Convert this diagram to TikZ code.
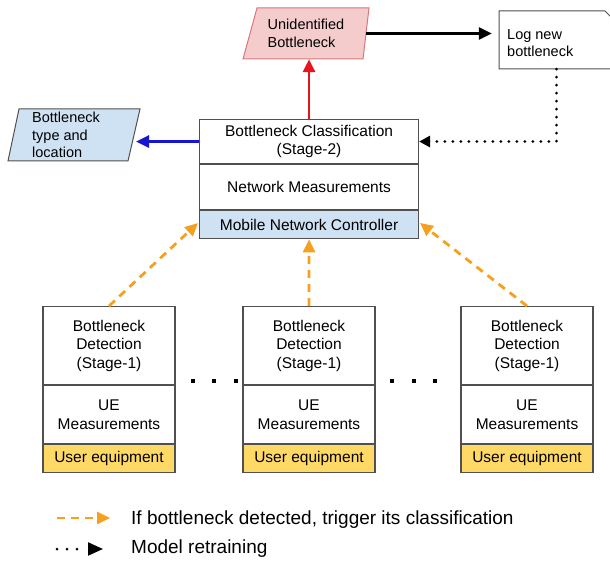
\documentclass[tikz,border=0pt]{standalone}
\usepackage{fontspec}
\setmainfont{Liberation Sans}
\usetikzlibrary{arrows.meta,calc}
\definecolor{pinkfill}{HTML}{F4CCCC}
\definecolor{pinkline}{HTML}{D9767A}
\definecolor{bluefill}{HTML}{CFE2F3}
\definecolor{yellowfill}{HTML}{FFD966}
\definecolor{boxline}{HTML}{505050}
\definecolor{orangeline}{HTML}{F6A020}
\definecolor{redline}{HTML}{E8141B}
\definecolor{blueline}{HTML}{1616D0}
\tikzset{
  cell/.style={draw=boxline, line width=1.1pt, minimum width=219pt, inner sep=0pt, align=center, font=\fontsize{15.5}{18.5}\selectfont},
  ucell/.style={draw=boxline, line width=1.1pt, minimum width=132pt, inner sep=0pt, align=center, font=\fontsize{15.5}{18.5}\selectfont},
  tip/.style={-{Triangle[length=13pt,width=12pt]}},
  trig/.style={draw=orangeline, line width=2.8pt, dash pattern=on 8pt off 6pt, -{Triangle[length=13pt,width=12pt]}},
  retrain/.style={draw=black, line width=3pt, line cap=round, dash pattern=on 0pt off 8pt},
  dotmark/.style={fill=black, minimum size=4pt, inner sep=0pt},
  lbl/.style={font=\fontsize{14.5}{17.5}\selectfont, align=left, inner sep=0pt},
}
\begin{document}
\begin{tikzpicture}[x=1pt,y=-1pt]
\path[use as bounding box] (0,0) rectangle (610,561);
% Classification stack
\node[cell, minimum height=44pt, anchor=north west] (cls1) at (199,119) {Bottleneck Classification\\(Stage-2)};
\node[cell, minimum height=45pt, anchor=north] (cls2) at (cls1.south) {Network Measurements};
\node[cell, minimum height=28pt, anchor=north, fill=bluefill] (cls3) at (cls2.south) {Mobile Network Controller};
% Unidentified bottleneck (parallelogram)
\node[minimum width=120pt, minimum height=51pt, inner sep=0pt] (unid) at (306,33.5) {};
\filldraw[fill=pinkfill, draw=pinkline, line width=1pt] (257,8) -- (369,8) -- (363,59) -- (243,59) -- cycle;
\node[lbl] (unidtext) at (unid.center) {Unidentified\\Bottleneck};
% Bottleneck type and location
\node[minimum width=120pt, minimum height=52pt, inner sep=0pt] (btype) at (74,135) {};
\filldraw[fill=bluefill, draw=boxline, line width=1pt] (19,109) -- (140,109) -- (128,161) -- (8,161) -- cycle;
\node[lbl, anchor=west] (btypetext) at (32,135) {Bottleneck\\type and\\location};
% Log new bottleneck (document with folded corner)
\node[minimum width=115pt, minimum height=58pt, inner sep=0pt] (log) at (556.5,40) {};
\draw[boxline, line width=1pt, fill=white] (499,11) -- (605,11) -- (616,22) -- (616,69) -- (499,69) -- cycle;
\node[lbl, anchor=west] (logtext) at (507,43) {Log new\\bottleneck};
% Connectors at top
\draw[redline, line width=2.8pt, tip] (cls1.north) -- (cls1.north |- unid.south);
\draw[blueline, line width=2.8pt, tip] (cls1.west) -- ++(-63,0);
\draw[black, line width=2.8pt, tip] (unid.east) -- ([xshift=-7pt]unid.east -| log.west);
\draw[retrain] (log.south) |- ([xshift=8pt]cls1.east);
\draw[black, line width=2.8pt, -{Triangle[length=11pt,width=11pt]}] ([xshift=6pt]cls1.east) -- (cls1.east);
% UE boxes
\foreach \i/\x in {a/109, b/309, c/527}{
  \node[ucell, minimum height=78pt, anchor=north] (det\i) at (\x,306) {Bottleneck\\Detection\\(Stage-1)};
  \node[ucell, minimum height=58pt, anchor=north] (meas\i) at (det\i.south) {UE\\Measurements};
  \node[ucell, minimum height=28pt, anchor=north, fill=yellowfill] (ue\i) at (meas\i.south) {User equipment};
}
% Orange triggers
\coordinate (ca) at (198,223);
\coordinate (cc) at (420,223);
\draw[trig] (deta.north) -- (ca);
\draw[trig] (detb.north) -- (cls3.south);
\draw[trig] (detc.north) -- (cc);
% Ellipsis dots
\foreach \x in {193,214,236,392,414,435}{
  \node[dotmark] (d\x) at (\x,381) {};
}
% Legend
\coordinate (la1) at (57,518);
\coordinate (la2) at (110,518);
\draw[trig] (la1) -- (la2);
\node[anchor=west, inner sep=0pt, font=\fontsize{19}{22}\selectfont] (leg1) at (131,520) {If bottleneck detected, trigger its classification};
\coordinate (lb1) at (57,549);
\coordinate (lb2) at (77,549);
\coordinate (lb3) at (103,549);
\draw[retrain, dash pattern=on 0pt off 10pt] (lb1) -- (lb2);
\draw[black, line width=2pt, -{Triangle[length=15pt,width=13pt]}] (90,549) -- (lb3);
\node[anchor=west, inner sep=0pt, font=\fontsize{19}{22}\selectfont] (leg2) at (131,549) {Model retraining};
\end{tikzpicture}
\end{document}
